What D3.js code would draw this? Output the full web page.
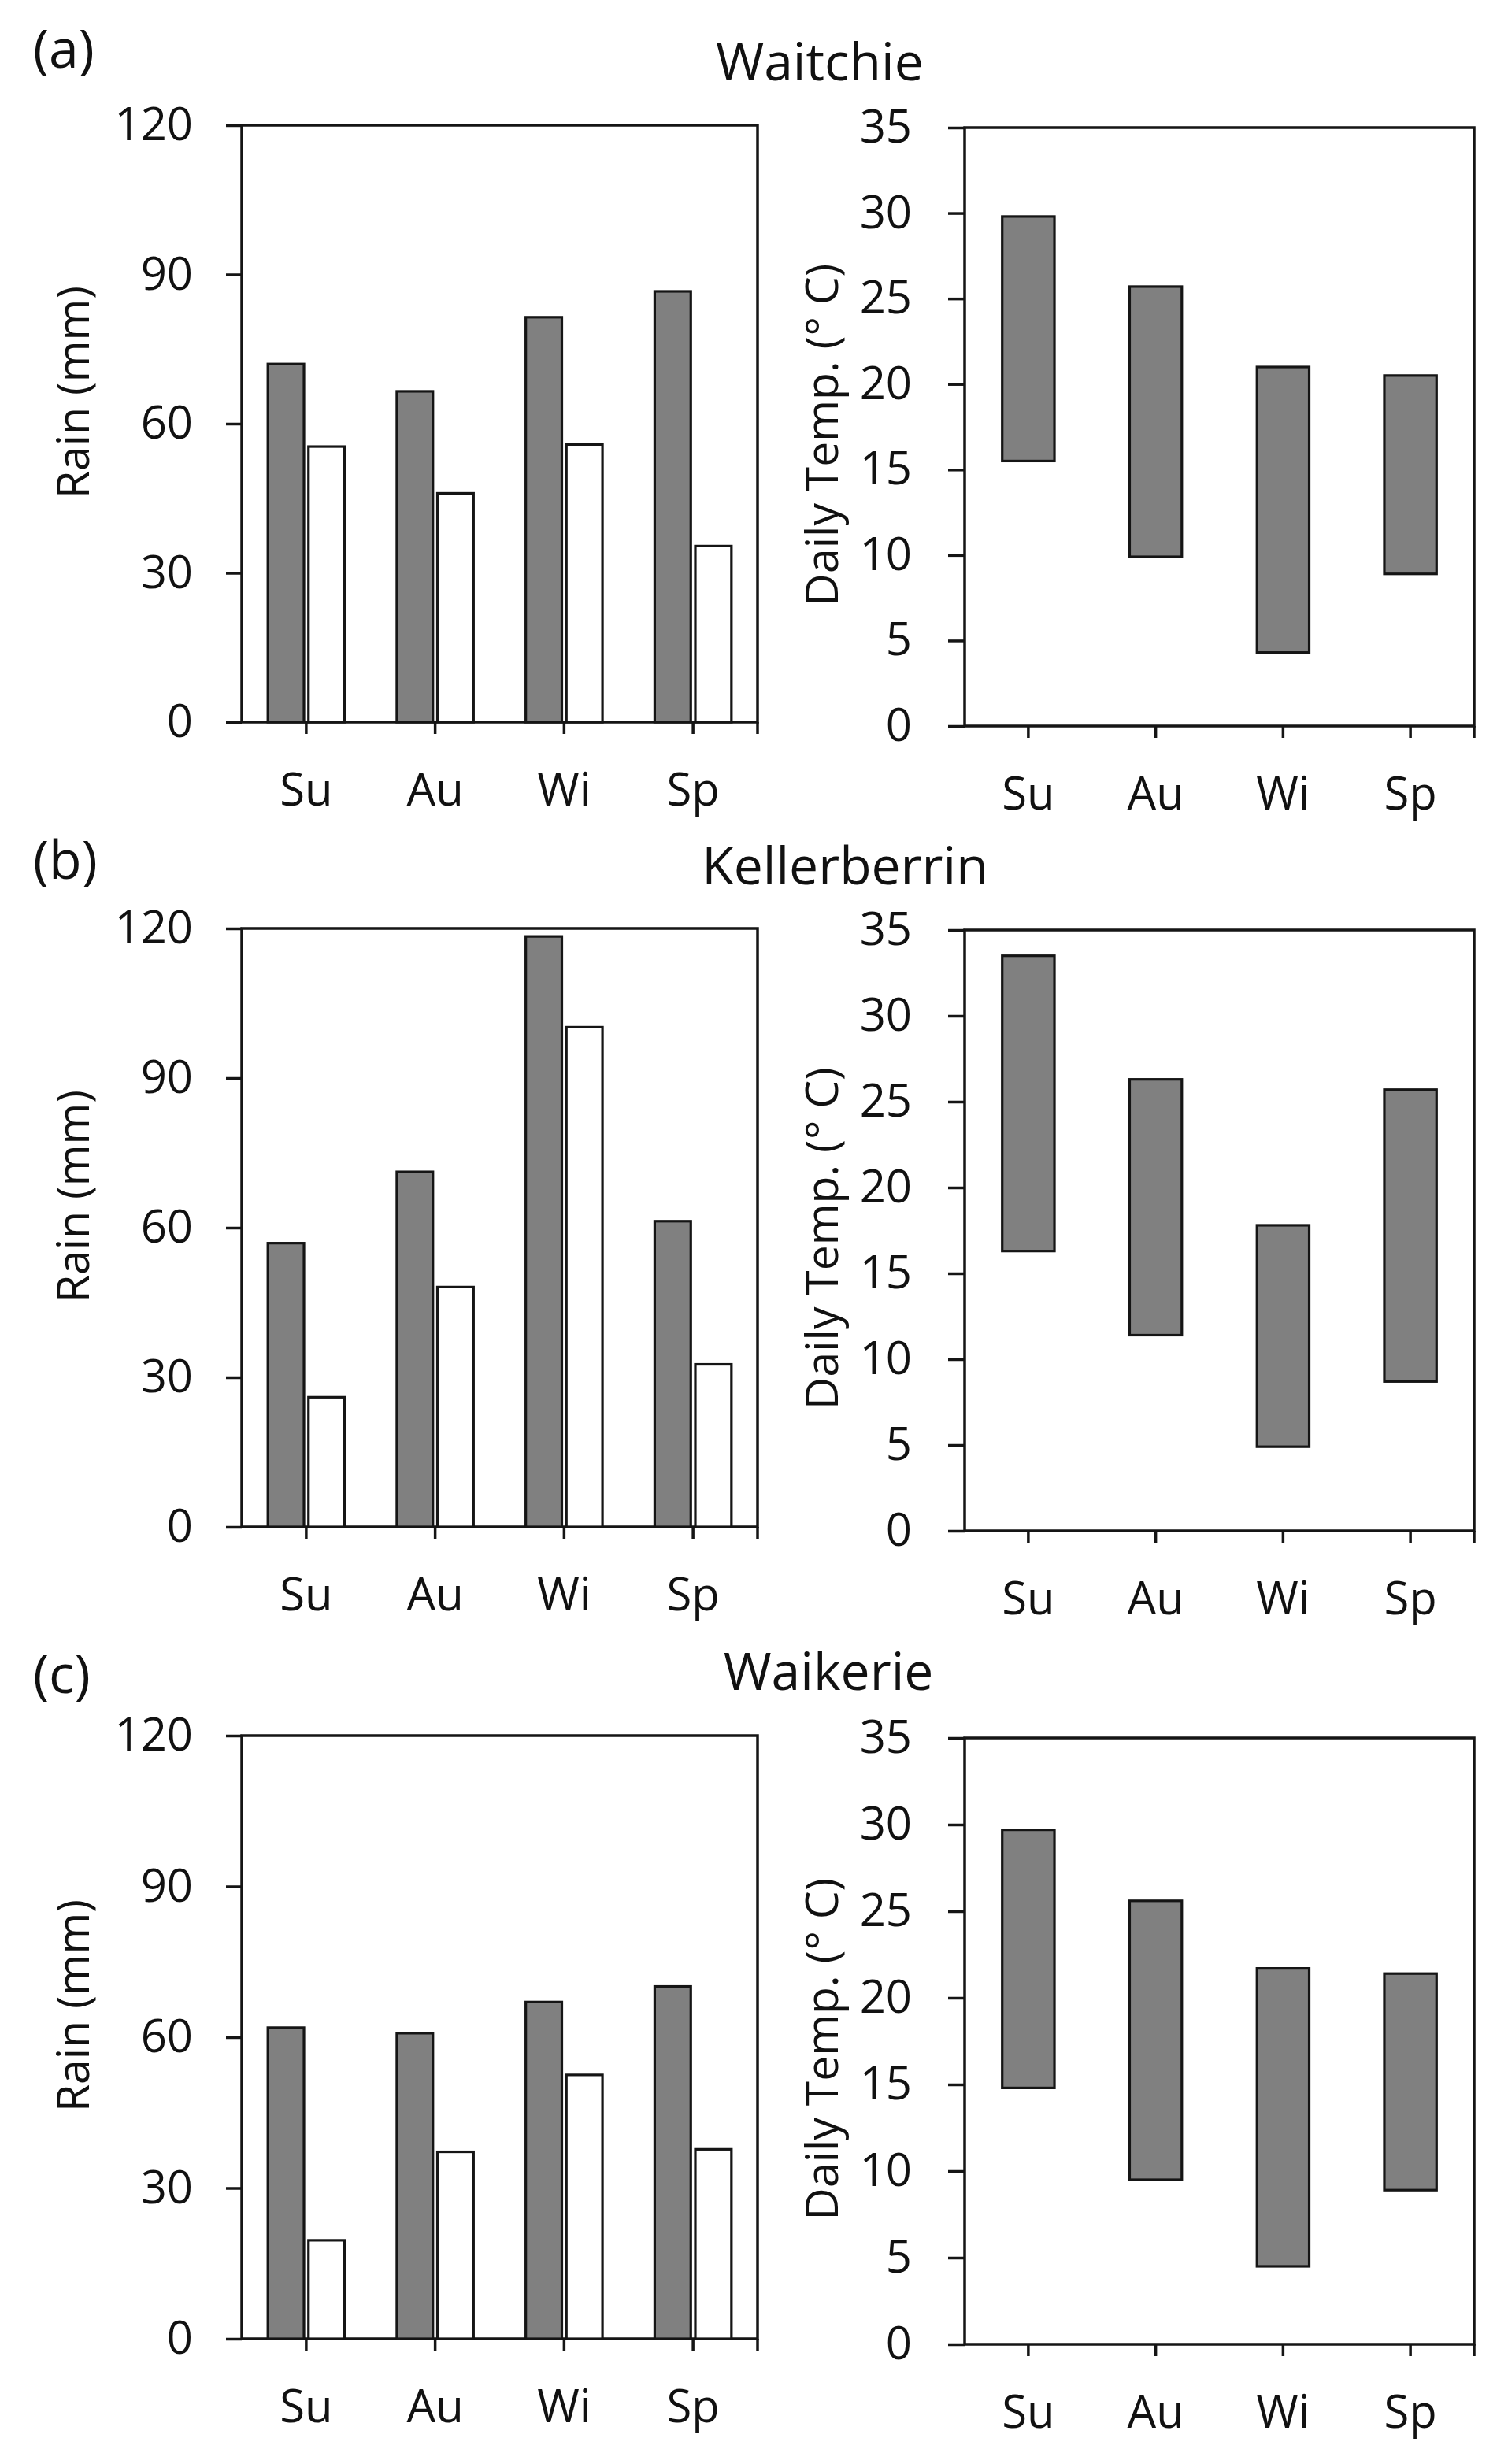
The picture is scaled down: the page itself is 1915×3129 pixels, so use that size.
<!DOCTYPE html>
<html>
<head>
<meta charset="utf-8">
<script src="https://cdn.jsdelivr.net/npm/d3@7"></script>
<style>
  body { margin: 0; background: #fff; }
  svg text { font-family: "Open Sans", "Noto Sans", sans-serif; fill: #111; }
</style>
</head>
<body>
<script>
// seasons on the x axis
const seasons = ["Su", "Au", "Wi", "Sp"];

// tick labels
const rainTicks = [0, 30, 60, 90, 120];
const tempTicks = [0, 5, 10, 15, 20, 25, 30, 35];

// sites
const sites = ["Waitchie", "Kellerberrin", "Waikerie"];
const panelLetters = ["(a)", "(b)", "(c)"];

// rainfall per season (mm): dark bars and white bars
const rainDark = [
    [72.0, 66.5, 81.4, 86.6],
    [56.9, 71.2, 118.4, 61.3],
    [61.9, 60.8, 67.0, 70.1]
];
const rainLight = [
    [55.4, 46.0, 55.8, 35.4],
    [26.0, 48.1, 100.2, 32.6],
    [19.6, 37.2, 52.5, 37.7]
];

// daily temperature range (deg C)
const tempMax = [
    [29.8, 25.7, 21.0, 20.5],
    [33.5, 26.3, 17.8, 25.7],
    [29.7, 25.6, 21.7, 21.4]
];
const tempMin = [
    [15.5, 9.9, 4.3, 8.9],
    [16.3, 11.4, 4.9, 8.7],
    [14.8, 9.5, 4.5, 8.9]
];

// ---- layout (pixels) ----
const W = 1915, H = 3129;
const rainX = [307, 962], tempX = [1225, 1872];
const panelY = [
    {rain: [159, 917],   temp: [162, 922],   title: [1041, 102],  letter: 86},
    {rain: [1179, 1939], temp: [1181, 1944], title: [1073, 1123], letter: 1116},
    {rain: [2204, 2970], temp: [2207, 2977], title: [1052, 2146], letter: 2150}
];
const ink = "#151515";
const grey = "#808080";

const svg = d3.select("body")
    .append("svg")
    .attr("width", W)
    .attr("height", H);

sites.forEach((site, p) => {
    const lay = panelY[p];
    const g = svg.append("g");

    // panel letter and site title
    g.append("text")
        .attr("x", 42).attr("y", lay.letter)
        .attr("font-size", 68)
        .text(panelLetters[p]);
    g.append("text")
        .attr("x", lay.title[0]).attr("y", lay.title[1])
        .attr("text-anchor", "middle")
        .attr("font-size", 66)
        .text(site);

    // ---------- rain chart ----------
    const xR = d3.scaleBand().domain(seasons).range(rainX);
    const yR = d3.scaleLinear().domain([0, 120]).range([lay.rain[1], lay.rain[0]]);
    const bw = xR.bandwidth() * 0.28, gap = xR.bandwidth() * 0.035;

    drawFrame(g, xR, yR, rainTicks, 20, 42);

    g.append("g").selectAll("rect")
        .data(seasons)
        .join("rect")
        .attr("x", (d) => xR(d) + xR.bandwidth() / 2 - gap / 2 - bw)
        .attr("y", (d, i) => yR(rainDark[p][i]))
        .attr("width", bw)
        .attr("height", (d, i) => yR(0) - yR(rainDark[p][i]))
        .attr("fill", grey)
        .attr("stroke", ink)
        .attr("stroke-width", 3.2);

    g.append("g").selectAll("rect")
        .data(seasons)
        .join("rect")
        .attr("x", (d) => xR(d) + xR.bandwidth() / 2 + gap / 2)
        .attr("y", (d, i) => yR(rainLight[p][i]))
        .attr("width", bw)
        .attr("height", (d, i) => yR(0) - yR(rainLight[p][i]))
        .attr("fill", "#fff")
        .attr("stroke", ink)
        .attr("stroke-width", 3.2);

    g.append("text")
        .attr("transform", `translate(91,${(lay.rain[0] + lay.rain[1]) / 2 - 40}) rotate(-90)`)
        .attr("text-anchor", "middle")
        .attr("dominant-baseline", "central")
        .attr("font-size", 57)
        .text("Rain (mm)");

    // ---------- temperature chart ----------
    const xT = d3.scaleBand().domain(seasons).range(tempX);
    const yT = d3.scaleLinear().domain([0, 35]).range([lay.temp[1], lay.temp[0]]);
    const tw = xT.bandwidth() * 0.41;

    g.append("g").selectAll("rect")
        .data(seasons)
        .join("rect")
        .attr("x", (d) => xT(d) + xT.bandwidth() / 2 - tw / 2)
        .attr("y", (d, i) => yT(tempMax[p][i]))
        .attr("width", tw)
        .attr("height", (d, i) => yT(tempMin[p][i]) - yT(tempMax[p][i]))
        .attr("fill", grey)
        .attr("stroke", ink)
        .attr("stroke-width", 3.2);

    drawFrame(g, xT, yT, tempTicks, 21, 46);

    g.append("text")
        .attr("transform", `translate(1042,${(lay.temp[0] + lay.temp[1]) / 2 + 10}) rotate(-90)`)
        .attr("text-anchor", "middle")
        .attr("dominant-baseline", "central")
        .attr("font-size", 57)
        .text("Daily Temp. (° C)");
});

// box around the plot, outward ticks on left and bottom
function drawFrame(g, x, y, ticks, tickLen, pad) {
    const [x0, x1] = x.range();
    const [yb, yt] = y.range();

    const ya = g.append("g")
        .attr("transform", `translate(${x0},0)`)
        .call(d3.axisLeft(y).tickValues(ticks).tickSize(tickLen).tickPadding(pad).tickFormat(d3.format("d")));
    ya.select(".domain").remove();
    ya.selectAll("line").attr("stroke", ink).attr("stroke-width", 3.5);
    ya.selectAll("text").attr("font-size", 58).attr("fill", ink)
        .attr("font-family", "Open Sans, Noto Sans, sans-serif");

    const xa = g.append("g")
        .attr("transform", `translate(0,${yb})`)
        .call(d3.axisBottom(x).tickSize(15).tickSizeOuter(0).tickPadding(0));
    xa.select(".domain").remove();
    xa.selectAll("line").attr("stroke", ink).attr("stroke-width", 3.5);
    xa.selectAll("text")
        .attr("font-size", 58).attr("fill", ink)
        .attr("font-family", "Open Sans, Noto Sans, sans-serif")
        .attr("y", 106).attr("dy", 0);

    // tick at the right end of the category axis
    g.append("line")
        .attr("x1", x1).attr("x2", x1)
        .attr("y1", yb).attr("y2", yb + 15)
        .attr("stroke", ink).attr("stroke-width", 3.5);

    g.append("rect")
        .attr("x", x0).attr("y", yt)
        .attr("width", x1 - x0).attr("height", yb - yt)
        .attr("fill", "none")
        .attr("stroke", ink)
        .attr("stroke-width", 3.5);
}
</script>
</body>
</html>
